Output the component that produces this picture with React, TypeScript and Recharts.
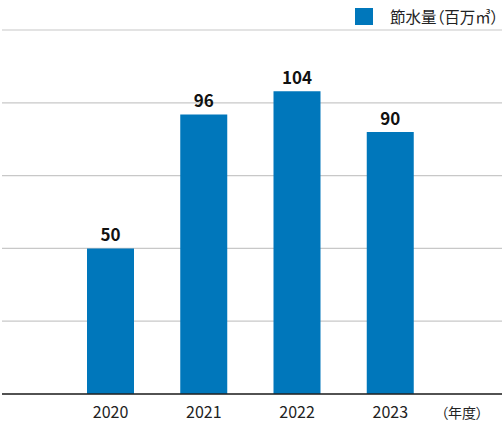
import { BarChart, Bar, XAxis, YAxis, CartesianGrid, LabelList, Legend, Label } from "recharts";

const FONT = "'Noto Sans CJK JP', 'Noto Sans', sans-serif";
const BAR_COLOR = "#0077bb";

const years = ["2020", "2021", "2022", "2023"];
const savedWater = [50, 96, 104, 90];
const yTicks = [0, 25, 50, 75, 100, 125];
const seriesName = "節水量（百万㎥）";
const xUnit = "（年度）";

const data = years.map((year, i) => ({ year, value: savedWater[i] }));

function LegendBox() {
  return (
    <div style={{ position: "absolute", top: 0, right: 0, height: 0, width: 0 }}>
      <div style={{ position: "absolute", top: 8, left: -149, display: "flex", alignItems: "center", whiteSpace: "nowrap", fontFamily: FONT, fontSize: 15.5, lineHeight: "17px", color: "#222", fontFeatureSettings: '"palt"' }}>
        <span style={{ display: "inline-block", width: 18, height: 17, background: BAR_COLOR, marginRight: 17 }} />
        {seriesName}
      </div>
    </div>
  );
}

export default function App() {
  return (
    <div style={{ position: "absolute", left: 0, top: 0, width: 504, height: 437, background: "#fff" }}>
      <BarChart width={504} height={437} data={data} margin={{ top: 30, right: 2, left: 2, bottom: 13 }} barSize={47}>
        <CartesianGrid vertical={false} stroke="#c8c8c8" strokeWidth={1.2} />
        <YAxis hide width={0} domain={[0, 125]} ticks={yTicks} />
        <XAxis
          dataKey="year"
          height={30}
          padding={{ left: 62, right: 65 }}
          axisLine={{ stroke: "#222", strokeWidth: 1.5 }}
          tickLine={false}
          tickMargin={7}
          tick={{ fill: "#222", fontSize: 16, fontFamily: FONT }}
        >
          <Label
            content={({ viewBox }: any) => (
              <text x={viewBox.x + viewBox.width - 40} y={viewBox.y + 24} textAnchor="middle" fill="#222" fontSize={14} fontFamily={FONT} style={{ fontFeatureSettings: '"palt"' }}>
                {xUnit}
              </text>
            )}
          />
        </XAxis>
        <Legend verticalAlign="top" align="right" content={() => <LegendBox />} wrapperStyle={{ top: 0, right: 0, height: 0 }} />
        <Bar dataKey="value" name={seriesName} fill={BAR_COLOR} isAnimationActive={false}>
          <LabelList dataKey="value" position="top" offset={7} fill="#111" fontSize={17} fontWeight={700} fontFamily={FONT} />
        </Bar>
      </BarChart>
    </div>
  );
}
